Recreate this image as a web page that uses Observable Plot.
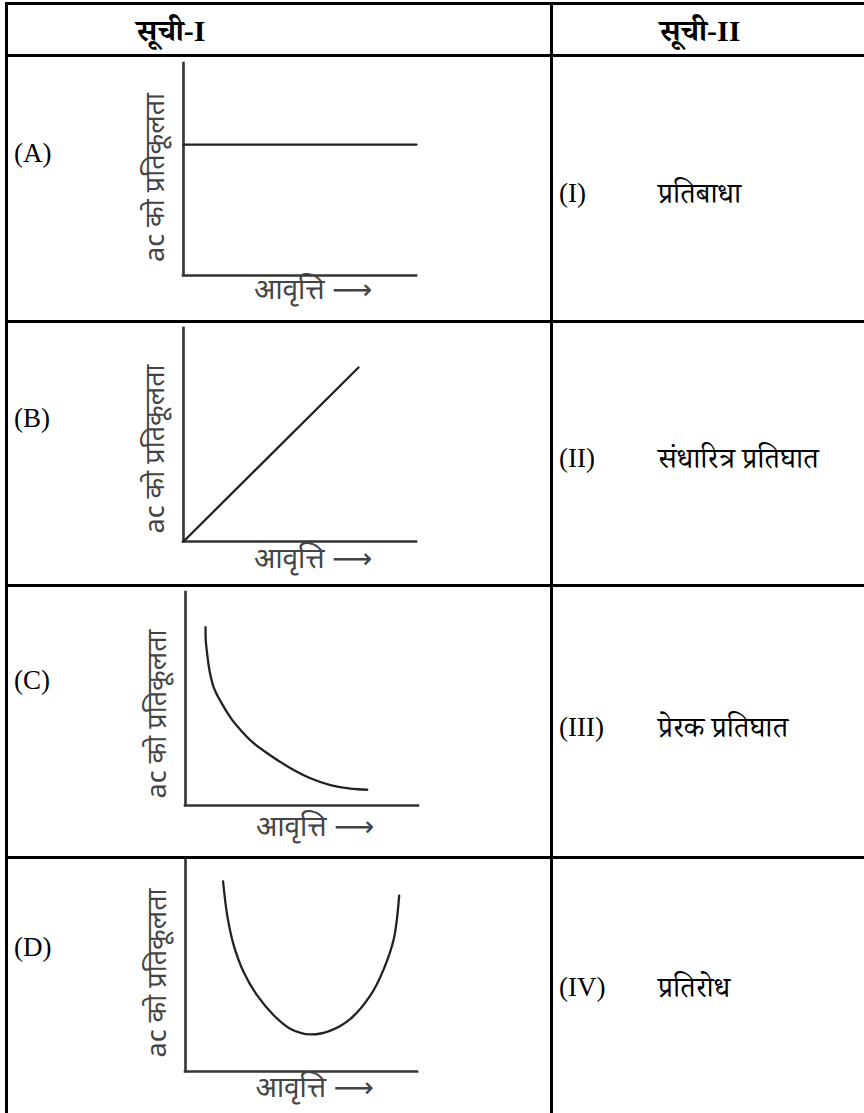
<!DOCTYPE html>
<html>
<head>
<meta charset="utf-8">
<script src="https://cdn.jsdelivr.net/npm/d3@7"></script>
<script src="https://cdn.jsdelivr.net/npm/@observablehq/plot@0.6"></script>
<style>
  html, body { margin: 0; padding: 0; background: #fff; }
  #wrap { position: relative; width: 864px; height: 1113px; overflow: hidden; background: #fff;
          font-family: "Liberation Serif", "Noto Serif Devanagari", "Noto Sans Devanagari", serif; color: #000; }
  .hl { position: absolute; left: 5px; right: 0; height: 3px; background: #000; z-index: 2; }
  .vl { position: absolute; top: 2px; bottom: 0; width: 3px; background: #000; z-index: 2; }
  .t { position: absolute; line-height: 1; transform: translateY(-50%); white-space: nowrap; font-size: 27px; }
  .d { position: absolute; line-height: 1; transform: translateY(-50%); white-space: nowrap; font-size: 29px; }
  .h { position: absolute; line-height: 1; transform: translate(-50%, -50%); white-space: nowrap; font-size: 30px; font-weight: bold; }
  .cell { position: absolute; left: 0; }
  .cell svg { display: block; overflow: visible; }
</style>
</head>
<body>
<div id="wrap"></div>
<script>
// ---- data ----
const headers = ["सूची-I", "सूची-II"];
const listILabels = ["(A)", "(B)", "(C)", "(D)"];
const listIILabels = ["(I)", "(II)", "(III)", "(IV)"];
const listIITexts = ["प्रतिबाधा", "संधारित्र प्रतिघात", "प्रेरक प्रतिघात", "प्रतिरोध"];
const yAxisLabel = "ac को प्रतिकूलता";
const xAxisLabel = "आवृत्ति ⟶";

// graph curves (frequency on x, reactance on y, both 0..1)
const curveAx = [0, 1];
const curveAy = [0.617, 0.617];
const curveBx = [0, 0.751];
const curveBy = [0, 0.817];
const curveCx = [0.086, 0.087, 0.093, 0.103, 0.121, 0.150, 0.197, 0.240, 0.290, 0.365, 0.451, 0.536, 0.622, 0.708, 0.780];
const curveCy = [0.837, 0.775, 0.712, 0.634, 0.555, 0.490, 0.407, 0.350, 0.295, 0.235, 0.175, 0.128, 0.096, 0.079, 0.074];
const curveDx = [0.162, 0.180, 0.208, 0.251, 0.309, 0.381, 0.453, 0.539, 0.625, 0.711, 0.797, 0.855, 0.898, 0.921];
const curveDy = [0.892, 0.732, 0.592, 0.466, 0.357, 0.263, 0.200, 0.174, 0.192, 0.247, 0.357, 0.482, 0.623, 0.826];

// ---- layout ----
const rows = [
  {top: 55,  h: 267, mt: 8, mb: 47, ml: 183, mr: 134, yDy: 8,  xDy: 23, label: 153, right: 193, xs: curveAx, ys: curveAy, curve: "linear"},
  {top: 322, h: 263, mt: 6, mb: 44, ml: 183, mr: 134, yDy: 14, xDy: 26, label: 418, right: 458, xs: curveBx, ys: curveBy, curve: "linear"},
  {top: 585, h: 272, mt: 7, mb: 52, ml: 185, mr: 132, yDy: 15, xDy: 30, label: 680, right: 727, xs: curveCx, ys: curveCy, curve: "catmull-rom"},
  {top: 857, h: 256, mt: 1, mb: 42, ml: 185, mr: 133, yDy: 8,  xDy: 25, label: 947, right: 987, xs: curveDx, ys: curveDy, curve: "catmull-rom"}
];

const wrap = document.getElementById("wrap");
function add(cls, css, text) {
  const d = document.createElement("div");
  d.className = cls;
  Object.assign(d.style, css);
  if (text != null) d.textContent = text;
  wrap.appendChild(d);
  return d;
}

// table rules
[2, 54, 320, 584, 856].forEach(y => add("hl", {top: y + "px"}));
[5, 550].forEach(x => add("vl", {left: x + "px"}));

// headers
add("h", {left: "171px", top: "31px"}, headers[0]);
add("h", {left: "700px", top: "31px"}, headers[1]);

const devFont = "'Noto Sans Devanagari', 'Noto Sans', 'DejaVu Sans', sans-serif";

rows.forEach((r, i) => {
  add("t", {left: "14px", top: r.label + "px"}, listILabels[i]);
  add("t", {left: "559px", top: r.right + "px"}, listIILabels[i]);
  add("d", {left: "658px", top: r.right + "px"}, listIITexts[i]);

  const pts = r.xs.map((x, k) => ({x, y: r.ys[k]}));
  const chart = Plot.plot({
    width: 550,
    height: r.h,
    marginTop: r.mt, marginBottom: r.mb, marginLeft: r.ml, marginRight: r.mr,
    x: {domain: [0, 1], axis: null},
    y: {domain: [0, 1], axis: null},
    style: {background: "transparent", overflow: "visible"},
    marks: [
      Plot.ruleX([0], {y1: 0, y2: 1, stroke: "#333", strokeWidth: 2.6, strokeLinecap: "square"}),
      Plot.ruleY([0], {x1: 0, x2: 1, stroke: "#333", strokeWidth: 2.6, strokeLinecap: "square"}),
      Plot.line(pts, {x: "x", y: "y", curve: r.curve, stroke: "#222", strokeWidth: 2.3}),
      Plot.text([yAxisLabel], {text: d => d, frameAnchor: "left", textAnchor: "middle", rotate: -90, dx: -28, dy: r.yDy,
        fontSize: 27, fill: "#444", fontFamily: devFont}),
      Plot.text([xAxisLabel], {text: d => d, frameAnchor: "bottom", textAnchor: "middle", dx: 13, dy: r.xDy,
        fontSize: 28, fill: "#444", fontFamily: devFont})
    ]
  });
  const c = add("cell", {top: r.top + "px"});
  c.appendChild(chart);
});
</script>
</body>
</html>
